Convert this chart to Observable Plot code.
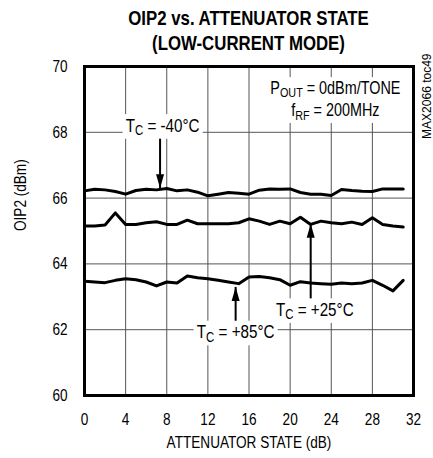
<!DOCTYPE html>
<html>
<head>
<meta charset="utf-8">
<script src="https://cdn.jsdelivr.net/npm/d3@7"></script>
<script src="https://cdn.jsdelivr.net/npm/@observablehq/plot@0.6"></script>
<style>
  body { margin: 0; background: white; font-family: "Liberation Sans", Arial, sans-serif; }
  #title { width: 497px; height: 48px; padding-top: 5px; box-sizing: border-box; text-align: center; font-weight: bold; font-size: 21px; line-height: 25px; overflow: visible; transform: scaleX(0.8); transform-origin: 248.5px 0; }
</style>
</head>
<body>
<div id="title">OIP2 vs. ATTENUATOR STATE<br>(LOW-CURRENT MODE)</div>
<div id="chart"></div>
<script>
// Attenuator states (dB)
const states = d3.range(0, 32);
// OIP2 (dBm) per case temperature
const oipM40 = [66.22, 66.27, 66.25, 66.20, 66.12, 66.23, 66.27, 66.25, 66.29, 66.22, 66.25, 66.18, 66.07, 66.12, 66.17, 66.15,
                66.12, 66.24, 66.28, 66.27, 66.28, 66.17, 66.12, 66.12, 66.08, 66.26, 66.23, 66.21, 66.20, 66.28, 66.28, 66.28];
const oipP25 = [65.15, 65.15, 65.18, 65.55, 65.20, 65.20, 65.25, 65.28, 65.20, 65.20, 65.33, 65.22, 65.22, 65.22, 65.22, 65.25,
                65.37, 65.30, 65.20, 65.30, 65.22, 65.42, 65.20, 65.30, 65.25, 65.22, 65.27, 65.20, 65.40, 65.20, 65.15, 65.12];
const oipP85 = [63.47, 63.45, 63.43, 63.50, 63.55, 63.52, 63.45, 63.33, 63.45, 63.42, 63.63, 63.58, 63.55, 63.50, 63.45, 63.40,
                63.60, 63.62, 63.58, 63.52, 63.35, 63.46, 63.42, 63.40, 63.38, 63.42, 63.40, 63.42, 63.50, 63.35, 63.18, 63.50];
const seriesNames = ["-40", "+25", "+85"];

const xTicks = [0, 4, 8, 12, 16, 20, 24, 28, 32];
const yTicks = [60, 62, 64, 66, 68, 70];

// Annotations (data units)
const curveLabels = [
  {text: "T_{C} = -40°C", x: 7.6, y: 68.2},
  {text: "T_{C} = +25°C", x: 22.4, y: 62.6},
  {text: "T_{C} = +85°C", x: 14.7, y: 61.92}
];
const conditionLabels = [
  {text: "P_{OUT} = 0dBm/TONE", x: 24.4, y: 69.35},
  {text: "f_{RF} = 200MHz", x: 24.4, y: 68.66}
];
const arrows = [
  {x: 7.35, from: 67.85, tip: 66.3, dir: "down"},
  {x: 22, from: 62.85, tip: 65.22, dir: "up"},
  {x: 14.7, from: 62.2, tip: 63.3, dir: "up"}
];

const table = [];
[oipM40, oipP25, oipP85].forEach((vals, k) => {
  states.forEach((s, i) => table.push({series: seriesNames[k], s, v: vals[i]}));
});

const headUp = {draw(ctx) { ctx.moveTo(0, 0); ctx.lineTo(-4, 14); ctx.lineTo(4, 14); ctx.closePath(); }};
const headDown = {draw(ctx) { ctx.moveTo(0, 0); ctx.lineTo(-4, -14); ctx.lineTo(4, -14); ctx.closePath(); }};

const chart = Plot.plot({
  width: 433,
  height: 410,
  marginTop: 18,
  marginBottom: 63,
  marginLeft: 84,
  marginRight: 20,
  style: {fontFamily: '"Liberation Sans", Arial, sans-serif', fontSize: "17px", color: "black", background: "white", overflow: "visible"},
  x: {domain: [0, 32], ticks: xTicks, tickSize: 0, tickPadding: 17, label: null},
  y: {domain: [60, 70], ticks: yTicks, tickSize: 0, tickPadding: 17, label: null},
  marks: [
    Plot.ruleX(xTicks, {stroke: "#555", strokeWidth: 1}),
    Plot.ruleY(yTicks, {stroke: "#555", strokeWidth: 1}),
    Plot.line(table, {x: "s", y: "v", z: "series", stroke: "black", strokeWidth: 3, strokeLinejoin: "round"}),
    Plot.link(arrows, {x1: "x", x2: "x", y1: "from", y2: "tip", stroke: "black", strokeWidth: 2}),
    Plot.dot(arrows.filter(d => d.dir === "up"), {x: "x", y: "tip", symbol: headUp, fill: "black", stroke: null}),
    Plot.dot(arrows.filter(d => d.dir === "down"), {x: "x", y: "tip", symbol: headDown, fill: "black", stroke: null}),
    Plot.text(curveLabels, {x: "x", y: "y", text: "text", fontSize: 19, fill: "black"}),
    Plot.text(conditionLabels, {x: "x", y: "y", text: "text", fontSize: 18, fill: "black"}),
    Plot.frame({stroke: "black", strokeWidth: 3}),
    Plot.text(["ATTENUATOR STATE (dB)"], {frameAnchor: "bottom", dy: 52, fontSize: 17}),
    Plot.text(["OIP2 (dBm)"], {frameAnchor: "left", dx: -64, rotate: -90, fontSize: 17}),
    Plot.text(["MAX2066 toc49"], {frameAnchor: "top-right", dx: 9, dy: -13, rotate: -90, textAnchor: "end", fontSize: 12})
  ]
});

// Render subscripts written as _{...}
chart.querySelectorAll("text").forEach(el => {
  const s = el.textContent;
  if (!s.includes("_{")) return;
  const parts = s.split(/(_\{[^}]*\})/);
  el.textContent = "";
  parts.forEach(p => {
    if (!p) return;
    const t = document.createElementNS("http://www.w3.org/2000/svg", "tspan");
    if (p.startsWith("_{")) {
      t.textContent = p.slice(2, -1);
      t.setAttribute("baseline-shift", "-25%");
      t.setAttribute("font-size", "75%");
    } else {
      t.textContent = p;
    }
    el.appendChild(t);
  });
});

document.getElementById("chart").appendChild(chart);

// Condensed look: scale glyphs horizontally about each text's anchor
chart.querySelectorAll("text").forEach(el => {
  if (el.textContent.startsWith("MAX2066")) return;
  const x0 = parseFloat(el.getAttribute("x")) || 0;
  const t = el.getAttribute("transform") || "";
  el.setAttribute("transform", `${t} translate(${x0},0) scale(0.8,1) translate(${-x0},0)`);
});

// White boxes behind the in-plot annotation texts (gridlines break around them)
const boxed = new Set([...curveLabels, ...conditionLabels].map(d => d.text.replace(/_\{([^}]*)\}/g, "$1")));
chart.querySelectorAll("text").forEach(el => {
  if (!boxed.has(el.textContent)) return;
  const b = el.getBBox();
  const r = document.createElementNS("http://www.w3.org/2000/svg", "rect");
  r.setAttribute("x", b.x - 4);
  r.setAttribute("y", b.y);
  r.setAttribute("width", b.width + 8);
  r.setAttribute("height", b.height);
  r.setAttribute("fill", "white");
  r.setAttribute("stroke", "none");
  const t = el.getAttribute("transform");
  if (t) r.setAttribute("transform", t);
  el.parentNode.insertBefore(r, el);
});
</script>
</body>
</html>
